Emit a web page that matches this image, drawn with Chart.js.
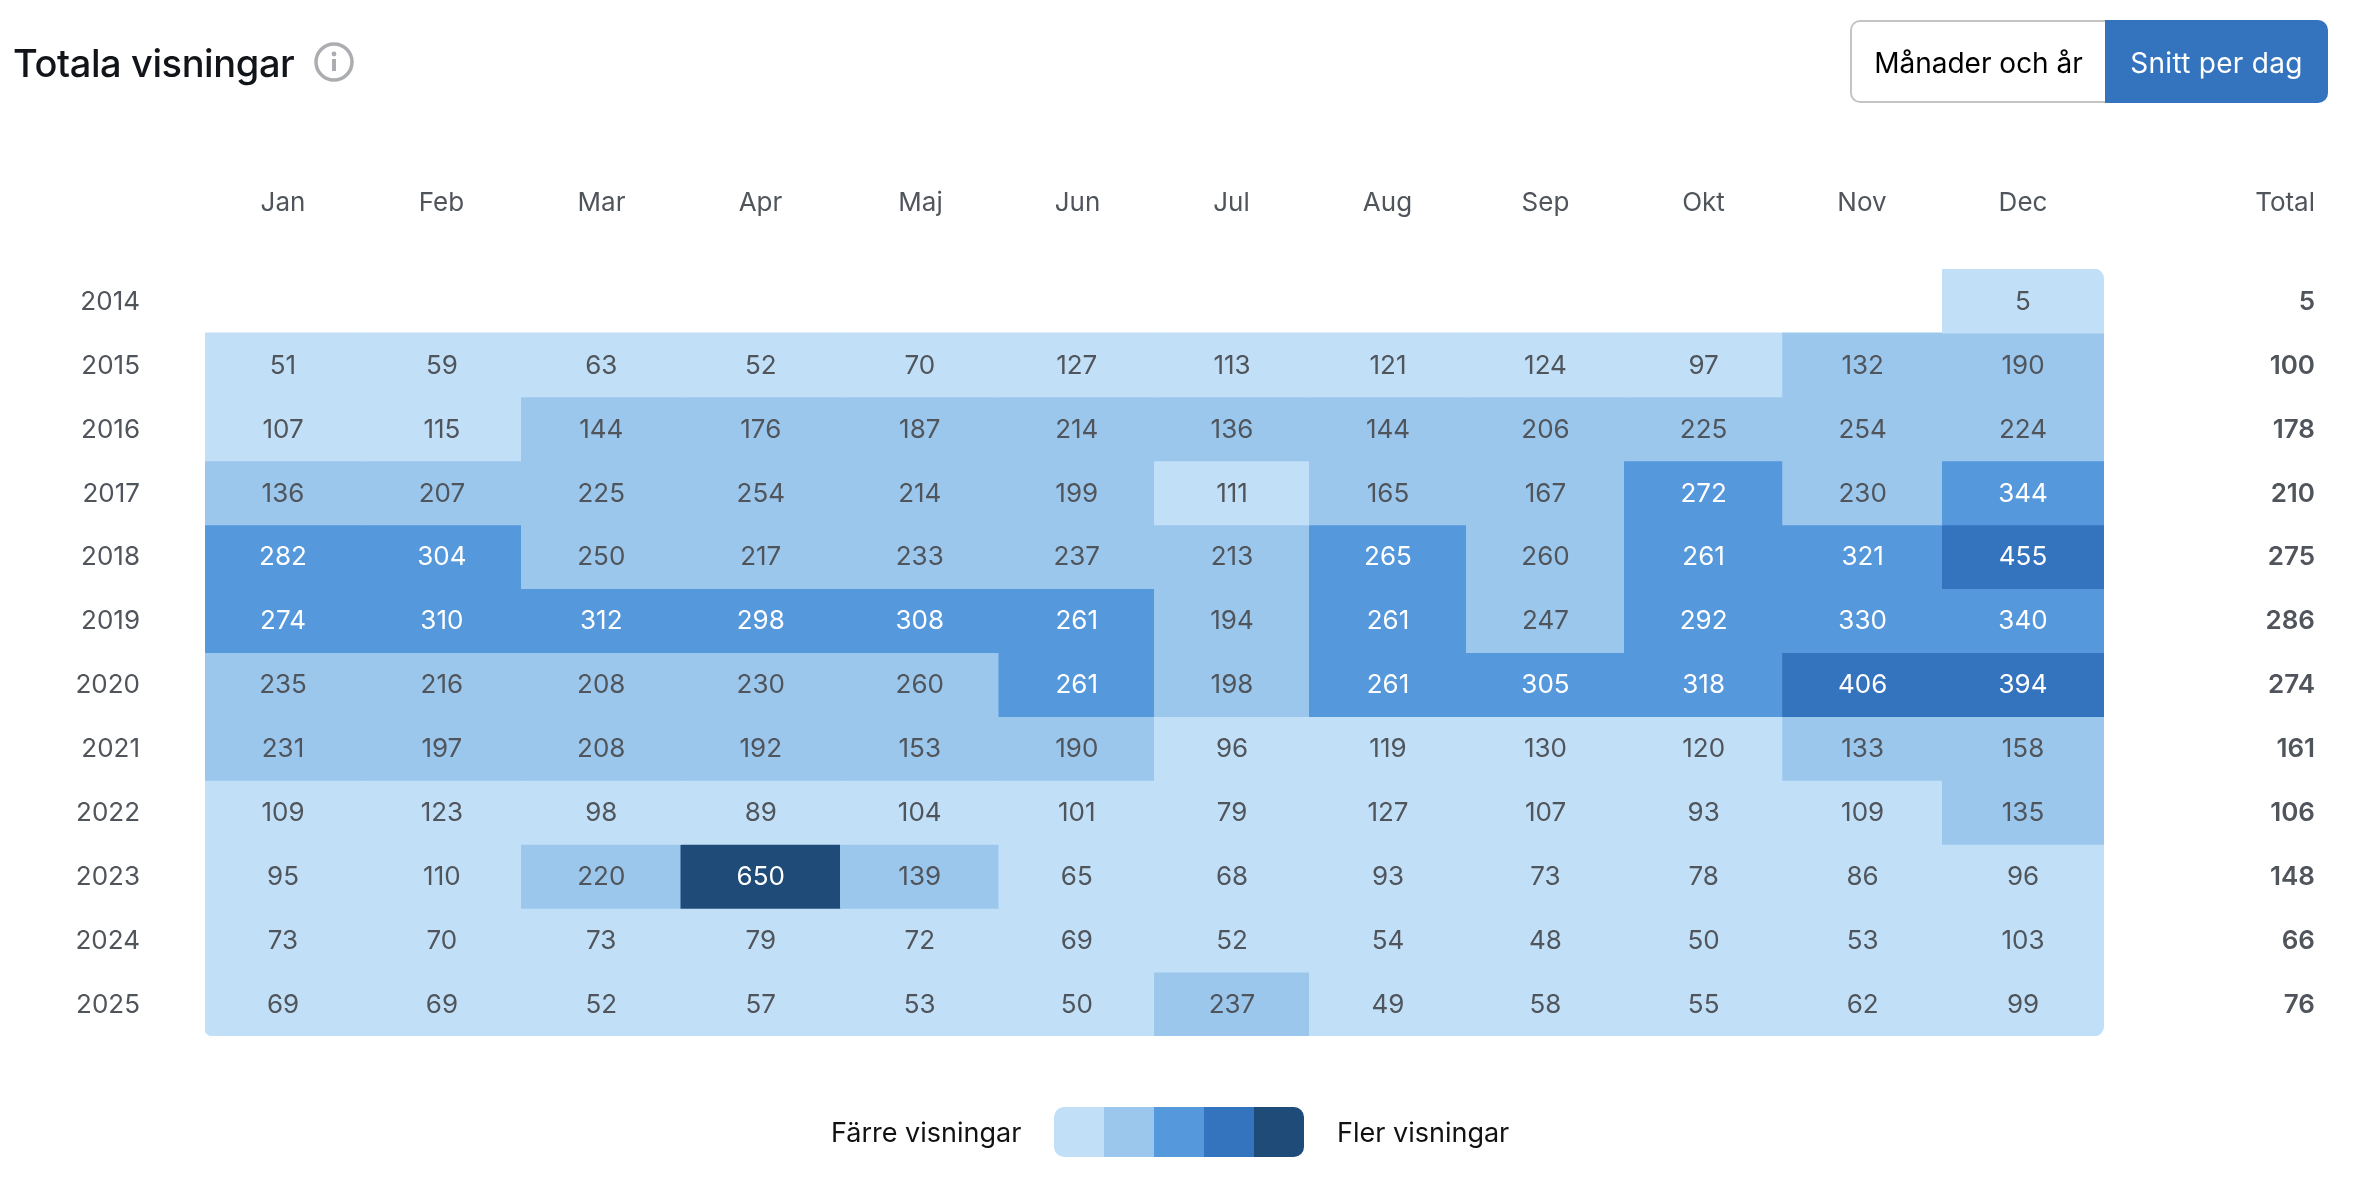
<!DOCTYPE html>
<html>
<head>
<meta charset="utf-8">
<script src="https://cdn.jsdelivr.net/npm/chart.js@4/dist/chart.umd.js"></script>
<style>
    body { margin: 0; background: #fff; font-family: Inter, sans-serif; width: 2368px; height: 1188px; position: relative; overflow: hidden; }
    canvas { position: absolute; left: 0; top: 0; }
    .title { position: absolute; left: 13px; top: 39px; font-size: 38px; font-weight: 500; letter-spacing: -0.4px; line-height: 48px; color: #111418; }
    .info { position: absolute; left: 314px; top: 42px; width: 40px; height: 40px; }
    .btns { position: absolute; left: 1850px; top: 20px; height: 83px; display: flex; font-size: 28px; }
    .btn1 { width: 255px; box-sizing: border-box; border: 2px solid #c4c4c4; border-right: 0; border-radius: 10px 0 0 10px; color: #000; text-align: center; line-height: 83px; }
    .btn2 { width: 223px; background: #3473bd; border-radius: 0 10px 10px 0; color: #fff; text-align: center; line-height: 87px; letter-spacing: 0.3px; }
    .head { position: absolute; right: 53px; top: 186px; font-size: 26px; line-height: 32px; color: #50555c; }
    .legend { position: absolute; top: 1108px; height: 50px; font-size: 27px; line-height: 50px; color: #111; }
    .ramp { position: absolute; left: 1054px; top: 1107px; width: 250px; height: 50px; display: flex; border-radius: 10px; overflow: hidden; }
    .ramp div { flex: 1; }
</style>
</head>
<body>
<canvas id="heatmap" width="2368" height="1188"></canvas>
<div class="title">Totala visningar</div>
<svg class="info" viewBox="0 0 40 40">
    <circle cx="20" cy="20" r="18" fill="none" stroke="#abadb0" stroke-width="3.5"/>
    <rect x="18" y="17" width="4" height="12" fill="#abadb0"/>
    <circle cx="20" cy="12" r="2.4" fill="#abadb0"/>
</svg>
<div class="btns"><div class="btn1">Månader och år</div><div class="btn2">Snitt per dag</div></div>
<div class="head">Total</div>
<div class="legend" style="left:831px">Färre visningar</div>
<div class="ramp" id="ramp"></div>
<div class="legend" style="left:1337px">Fler visningar</div>

<script>
const months = ['Jan', 'Feb', 'Mar', 'Apr', 'Maj', 'Jun', 'Jul', 'Aug', 'Sep', 'Okt', 'Nov', 'Dec'];
const years = ['2014', '2015', '2016', '2017', '2018', '2019', '2020', '2021', '2022', '2023', '2024', '2025'];
const totals = ['5', '100', '178', '210', '275', '286', '274', '161', '106', '148', '66', '76'];

const y2014 = [null, null, null, null, null, null, null, null, null, null, null, 5];
const y2015 = [51, 59, 63, 52, 70, 127, 113, 121, 124, 97, 132, 190];
const y2016 = [107, 115, 144, 176, 187, 214, 136, 144, 206, 225, 254, 224];
const y2017 = [136, 207, 225, 254, 214, 199, 111, 165, 167, 272, 230, 344];
const y2018 = [282, 304, 250, 217, 233, 237, 213, 265, 260, 261, 321, 455];
const y2019 = [274, 310, 312, 298, 308, 261, 194, 261, 247, 292, 330, 340];
const y2020 = [235, 216, 208, 230, 260, 261, 198, 261, 305, 318, 406, 394];
const y2021 = [231, 197, 208, 192, 153, 190, 96, 119, 130, 120, 133, 158];
const y2022 = [109, 123, 98, 89, 104, 101, 79, 127, 107, 93, 109, 135];
const y2023 = [95, 110, 220, 650, 139, 65, 68, 93, 73, 78, 86, 96];
const y2024 = [73, 70, 73, 79, 72, 69, 52, 54, 48, 50, 53, 103];
const y2025 = [69, 69, 52, 57, 53, 50, 237, 49, 58, 55, 62, 99];
const rows = [y2014, y2015, y2016, y2017, y2018, y2019, y2020, y2021, y2022, y2023, y2024, y2025];

const colors = ['#c1dff7', '#9cc7ed', '#5598dc', '#3473bd', '#1f4b78'];
const textColor = '#50555c';
const binSize = 130;

const bin = (v) => Math.max(Math.ceil(v / binSize) - 1, 0);

// table columns are not all the same width, relative widths per month
const columnWidths = [156, 161, 159, 159, 161, 153, 155, 157, 159, 157, 160, 162];

const CategoryScale = Chart.registry.getScale('category');

class TableScale extends CategoryScale {
    getPixelForDecimal(decimal) {
        const total = columnWidths.reduce((a, b) => a + b, 0);
        let pos = decimal * columnWidths.length;
        let sum = 0;
        for (let i = 0; i < columnWidths.length; i++) {
            if (pos <= 1 || i === columnWidths.length - 1) {
                sum += pos * columnWidths[i];
                break;
            }
            sum += columnWidths[i];
            pos -= 1;
        }
        return this.left + this.width * sum / total;
    }
}
TableScale.id = 'tableColumns';
TableScale.defaults = CategoryScale.defaults;
Chart.register(TableScale);

// corners of the whole table are rounded, not each cell
const cellRadius = (ctx) => {
    const row = ctx.datasetIndex, col = ctx.dataIndex, r = 10;
    const radius = { topLeft: 0, topRight: 0, bottomLeft: 0, bottomRight: 0 };
    if (row === 0 && col === 11) radius.topRight = r;
    if (row === 11 && col === 0) radius.bottomLeft = r;
    if (row === 11 && col === 11) radius.bottomRight = r;
    return radius;
};

// numbers inside the cells
const cellText = {
    id: 'cellText',
    afterDatasetsDraw(chart) {
        const ctx = chart.ctx;
        ctx.save();
        ctx.font = '26px Inter';
        ctx.textAlign = 'center';
        ctx.textBaseline = 'middle';
        rows.forEach((row, i) => {
            chart.getDatasetMeta(i).data.forEach((el, j) => {
                if (row[j] == null) return;
                const p = el.getCenterPoint();
                ctx.fillStyle = bin(row[j]) >= 2 ? '#ffffff' : textColor;
                ctx.fillText(row[j], p.x, p.y + 1);
            });
        });
        ctx.restore();
    }
};

new Chart(document.getElementById('heatmap'), {
    type: 'bar',
    plugins: [cellText],
    data: {
        labels: months,
        datasets: rows.map((row, i) => ({
            label: years[i],
            data: row.map((v) => (v == null ? null : [i, i + 1])),
            backgroundColor: row.map((v) => (v == null ? 'transparent' : colors[bin(v)])),
            yAxisID: 'y',
            stack: 'table', // all years share one slot per month
            barThickness: 'flex',
            barPercentage: 1,
            categoryPercentage: 1,
            borderSkipped: false,
            borderRadius: cellRadius,
            inflateAmount: 0.5
        }))
    },
    options: {
        responsive: false,
        animation: false,
        layout: { padding: { top: 0, left: 0, right: 53, bottom: 152 } },
        plugins: { legend: { display: false }, tooltip: { enabled: false } },
        scales: {
            x: {
                type: 'tableColumns',
                position: 'top',
                offset: true,
                grid: { display: false, drawTicks: false },
                border: { display: false },
                ticks: { color: textColor, font: { family: 'Inter', size: 26 }, maxRotation: 0, padding: 50, autoSkip: false },
                afterFit: (axis) => { axis.height = 269; }
            },
            y: {
                display: false,
                stacked: false,
                reverse: true,
                min: 0,
                max: 12
            },
            yearAxis: {
                type: 'category',
                labels: years,
                position: 'left',
                offset: true,
                grid: { display: false, drawTicks: false },
                border: { display: false },
                ticks: { color: textColor, font: { family: 'Inter', size: 26 }, padding: 65, autoSkip: false, labelOffset: 1 },
                afterFit: (axis) => { axis.width = 205; }
            },
            totalAxis: {
                type: 'category',
                labels: totals,
                position: 'right',
                offset: true,
                grid: { display: false, drawTicks: false },
                border: { display: false },
                ticks: { color: textColor, font: { family: 'Inter', size: 26, weight: '600' }, crossAlign: 'far', autoSkip: false, labelOffset: 1 },
                afterFit: (axis) => { axis.width = 211; }
            }
        }
    }
});

document.getElementById('ramp').innerHTML = colors.map((c) => `<div style="background:${c}"></div>`).join('');
</script>
</body>
</html>
